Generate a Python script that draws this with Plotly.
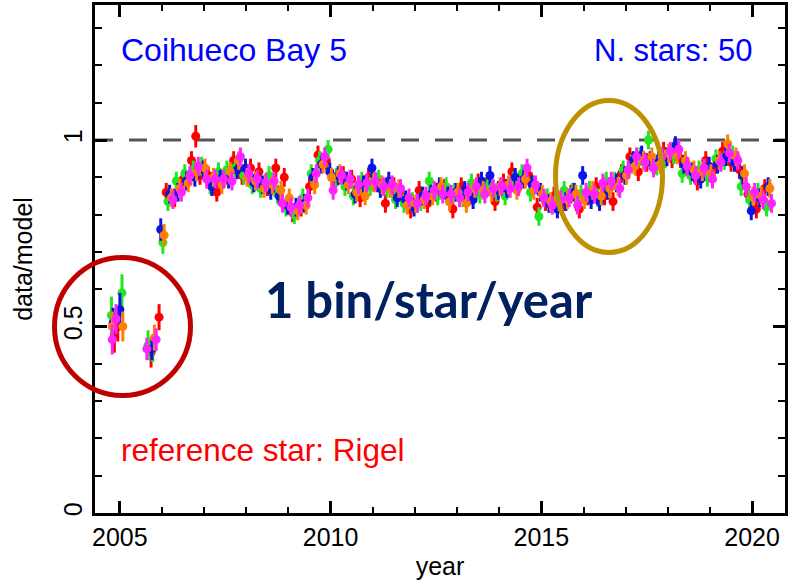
import plotly.graph_objects as go

# ---------------- data ----------------
bin_years = [2006.10, 2006.30, 2006.50, 2006.70, 2006.90, 2007.10, 2007.30, 2007.50, 2007.70, 2007.90,
             2008.10, 2008.30, 2008.50, 2008.70, 2008.90, 2009.10, 2009.30, 2009.50, 2009.70, 2009.90,
             2010.10, 2010.30, 2010.50, 2010.70, 2010.90, 2011.10, 2011.30, 2011.50, 2011.70, 2011.90,
             2012.10, 2012.30, 2012.50, 2012.70, 2012.90, 2013.10, 2013.30, 2013.50, 2013.70, 2013.90,
             2014.10, 2014.30, 2014.50, 2014.70, 2014.90, 2015.10, 2015.30, 2015.50, 2015.70, 2015.90,
             2016.10, 2016.30, 2016.50, 2016.70, 2016.90, 2017.10, 2017.30, 2017.50, 2017.70, 2017.90,
             2018.10, 2018.30, 2018.50, 2018.70, 2018.90, 2019.10, 2019.30, 2019.50, 2019.70, 2019.90,
             2020.10, 2020.30]

red_vals = [0.860, 0.845, 0.895, 0.945, 0.905, 0.905, 0.860, 0.905, 0.945, 0.905,
            0.925, 0.915, 0.875, 0.925, 0.900, 0.805, 0.820, 0.875, 0.960, 0.945,
            0.885, 0.905, 0.895, 0.845, 0.900, 0.885, 0.830, 0.875, 0.845, 0.815,
            0.865, 0.830, 0.860, 0.870, 0.815, 0.875, 0.850, 0.885, 0.875, 0.835,
            0.885, 0.915, 0.890, 0.905, 0.820, 0.835, 0.850, 0.820, 0.855, 0.815,
            0.850, 0.875, 0.850, 0.835, 0.910, 0.955, 0.915, 0.940, 0.935, 0.970,
            0.950, 0.950, 0.920, 0.890, 0.945, 0.920, 0.970, 0.940, 0.920, 0.855,
            0.815, 0.870]
green_vals = [0.835, 0.890, 0.910, 0.920, 0.930, 0.880, 0.915, 0.920, 0.925, 0.905,
              0.880, 0.870, 0.905, 0.855, 0.820, 0.800, 0.845, 0.910, 0.945, 0.975,
              0.900, 0.875, 0.850, 0.890, 0.875, 0.895, 0.870, 0.840, 0.830, 0.835,
              0.835, 0.890, 0.850, 0.875, 0.860, 0.845, 0.885, 0.855, 0.880, 0.860,
              0.850, 0.890, 0.910, 0.860, 0.795, 0.845, 0.840, 0.865, 0.860, 0.855,
              0.865, 0.845, 0.890, 0.890, 0.920, 0.935, 0.955, 1.000, 0.930, 0.950,
              0.960, 0.910, 0.905, 0.920, 0.900, 0.950, 0.945, 0.960, 0.875, 0.840,
              0.860, 0.820]
blue_vals = [0.855, 0.860, 0.890, 0.900, 0.920, 0.875, 0.895, 0.895, 0.920, 0.925,
             0.885, 0.880, 0.865, 0.850, 0.825, 0.820, 0.830, 0.900, 0.935, 0.915,
             0.905, 0.890, 0.855, 0.880, 0.925, 0.870, 0.890, 0.845, 0.840, 0.820,
             0.850, 0.855, 0.875, 0.850, 0.860, 0.865, 0.840, 0.890, 0.905, 0.865,
             0.870, 0.900, 0.895, 0.880, 0.860, 0.830, 0.815, 0.835, 0.860, 0.905,
             0.840, 0.835, 0.865, 0.885, 0.905, 0.945, 0.960, 0.945, 0.950, 0.955,
             0.985, 0.935, 0.915, 0.895, 0.930, 0.935, 0.955, 0.940, 0.905, 0.810,
             0.845, 0.875]
orange_vals = [0.845, 0.870, 0.885, 0.915, 0.925, 0.900, 0.880, 0.915, 0.945, 0.900,
               0.890, 0.870, 0.880, 0.865, 0.845, 0.810, 0.825, 0.880, 0.935, 0.900,
               0.910, 0.880, 0.860, 0.850, 0.885, 0.880, 0.870, 0.870, 0.825, 0.830,
               0.840, 0.850, 0.875, 0.835, 0.860, 0.830, 0.870, 0.865, 0.860, 0.875,
               0.880, 0.865, 0.895, 0.865, 0.855, 0.835, 0.835, 0.840, 0.855, 0.840,
               0.865, 0.850, 0.870, 0.875, 0.905, 0.930, 0.945, 0.955, 0.935, 0.965,
               0.960, 0.945, 0.920, 0.915, 0.910, 0.945, 0.990, 0.955, 0.910, 0.850,
               0.850, 0.870]
magenta_vals = [0.840, 0.860, 0.905, 0.930, 0.895, 0.895, 0.895, 0.890, 0.955, 0.910,
                0.895, 0.885, 0.890, 0.830, 0.820, 0.825, 0.845, 0.910, 0.955, 0.865,
                0.905, 0.895, 0.880, 0.885, 0.890, 0.875, 0.880, 0.870, 0.845, 0.830,
                0.850, 0.865, 0.855, 0.855, 0.845, 0.860, 0.875, 0.855, 0.870, 0.875,
                0.870, 0.875, 0.925, 0.880, 0.845, 0.825, 0.840, 0.845, 0.825, 0.860,
                0.855, 0.885, 0.890, 0.870, 0.920, 0.955, 0.940, 0.925, 0.955, 0.970,
                0.975, 0.930, 0.905, 0.925, 0.895, 0.940, 0.965, 0.945, 0.875, 0.860,
                0.840, 0.830]
main_err = 0.025

# early (pre-2006.1) bins per colour: years, values, errors
red_early_x = [2004.87, 2004.95, 2005.74, 2005.93, 2006.80]
red_early_y = [0.480, 0.500, 0.430, 0.525, 1.010]
red_early_e = [0.050, 0.040, 0.040, 0.035, 0.030]
green_early_x = [2004.80, 2005.05, 2005.67, 2005.78, 2006.02]
green_early_y = [0.530, 0.590, 0.450, 0.440, 0.725]
green_early_e = [0.050, 0.050, 0.040, 0.035, 0.030]
blue_early_x = [2004.84, 2005.00, 2005.76, 2005.97]
blue_early_y = [0.510, 0.545, 0.440, 0.760]
blue_early_e = [0.040, 0.045, 0.030, 0.030]
orange_early_x = [2004.82, 2005.07, 2005.82, 2006.05]
orange_early_y = [0.500, 0.500, 0.470, 0.745]
orange_early_e = [0.040, 0.040, 0.035, 0.030]
magenta_early_x = [2004.82, 2004.91, 2005.64, 2005.86]
magenta_early_y = [0.465, 0.520, 0.440, 0.465]
magenta_early_e = [0.040, 0.040, 0.030, 0.030]

x_tick_vals = [2005, 2010, 2015, 2020]
y_tick_vals = [0, 0.5, 1]
y_tick_text = ["0", "0.5", "1"]

# ---------------- figure ----------------
series = [
    ("red", "#ff0000", 0.00, red_vals, red_early_x, red_early_y, red_early_e),
    ("green", "#22e622", 0.04, green_vals, green_early_x, green_early_y, green_early_e),
    ("blue", "#0a14e6", 0.08, blue_vals, blue_early_x, blue_early_y, blue_early_e),
    ("orange", "#ff8000", 0.12, orange_vals, orange_early_x, orange_early_y, orange_early_e),
    ("magenta", "#ff22ff", 0.16, magenta_vals, magenta_early_x, magenta_early_y, magenta_early_e),
]

fig = go.Figure()
for name, col, stag, vals, ex, ey, ee in series:
    xs = list(ex) + [b + stag for b in bin_years]
    ys = list(ey) + list(vals)
    es = list(ee) + [main_err] * len(vals)
    fig.add_trace(go.Scatter(
        x=xs, y=ys, mode="markers", name=name, showlegend=False,
        marker=dict(color=col, size=9, line=dict(width=0)),
        error_y=dict(type="data", array=es, visible=True, color=col, thickness=3, width=0),
    ))

L, R, T, B = 95, 5, 5, 68
W, H = 790, 581
pw, ph = W - L - R, H - T - B


def px_x(p):
    return (p - L) / pw


def px_y(p):
    return (H - B - p) / ph


axis_font = dict(family="Liberation Sans, Arial, sans-serif", size=25, color="black")

fig.update_layout(
    width=W, height=H,
    margin=dict(l=L, r=R, t=T, b=B, autoexpand=False),
    paper_bgcolor="white", plot_bgcolor="white",
    font=axis_font,
    xaxis=dict(
        range=[2004.41, 2020.78], tickvals=x_tick_vals, ticks="inside", ticklen=12,
        tickwidth=2.5, tickcolor="black", showline=True, linewidth=2.5, linecolor="black",
        mirror="allticks", showgrid=False, zeroline=False, tickfont=axis_font,
        minor=dict(dtick=1, tick0=2005, ticks="inside", ticklen=6, tickwidth=2, tickcolor="black"),
        title=dict(text="year", font=axis_font, standoff=8),
    ),
    yaxis=dict(
        range=[0, 1.362], tickvals=y_tick_vals, ticktext=y_tick_text, ticks="inside",
        ticklen=12, tickwidth=2.5, tickcolor="black", showline=True, linewidth=2.5,
        linecolor="black", mirror="allticks", showgrid=False, zeroline=False,
        tickangle=-90, tickfont=axis_font,
        minor=dict(dtick=0.1, tick0=0, ticks="inside", ticklen=7, tickwidth=2, tickcolor="black"),
        title=dict(text="data/model", font=axis_font, standoff=20),
    ),
)

# dashed reference line at 1
fig.add_shape(type="line", xref="paper", x0=0, x1=1, yref="y", y0=1, y1=1,
              line=dict(color="#555555", width=3, dash="18px,16px"), layer="below")

# highlight ellipses
fig.add_shape(type="circle", xref="paper", yref="paper",
              x0=px_x(54.5), x1=px_x(190.5), y0=px_y(395.5), y1=px_y(257.5),
              line=dict(color="#c00000", width=5))
fig.add_shape(type="circle", xref="paper", yref="paper",
              x0=px_x(555.5), x1=px_x(662.5), y0=px_y(252.5), y1=px_y(100.5),
              line=dict(color="#bf9000", width=5))

ann_font = "Liberation Sans, Arial, sans-serif"
fig.add_annotation(x=2004.98, y=1.241, xref="x", yref="y", text="Coihueco Bay 5",
                   showarrow=False, xanchor="left", yanchor="middle",
                   font=dict(family=ann_font, size=32, color="#0000ff"))
fig.add_annotation(x=2020.08, y=1.241, xref="x", yref="y", text="N. stars: 50",
                   showarrow=False, xanchor="right", yanchor="middle",
                   font=dict(family=ann_font, size=31, color="#0000ff"))
fig.add_annotation(x=2004.98, y=0.169, xref="x", yref="y", text="reference star: Rigel",
                   showarrow=False, xanchor="left", yanchor="middle",
                   font=dict(family=ann_font, size=31.5, color="#ff0000"))
fig.add_annotation(x=2012.34, y=0.575, xref="x", yref="y", text="<b>1 bin/star/year</b>",
                   showarrow=False, xanchor="center", yanchor="middle",
                   font=dict(family="Lato, Open Sans, sans-serif", size=49, color="#002060"))

fig.write_html("out.html")
